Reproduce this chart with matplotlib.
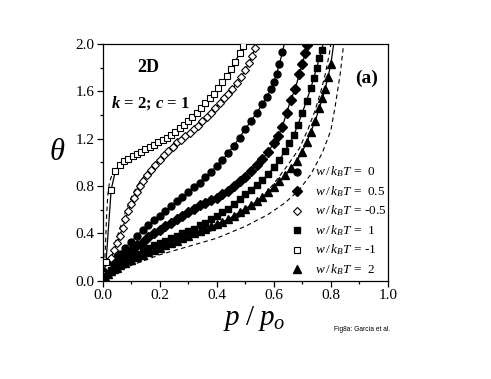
import matplotlib
matplotlib.use("Agg")
import matplotlib.pyplot as plt

plt.rcParams['font.family'] = ['Liberation Serif', 'DejaVu Serif']
plt.rcParams['mathtext.fontset'] = 'custom'
plt.rcParams['mathtext.rm'] = 'Liberation Serif'
plt.rcParams['mathtext.it'] = 'Liberation Serif:italic'
plt.rcParams['mathtext.bf'] = 'Liberation Serif:italic:bold'

# ---- data ----
# w/kBT = 0 (filled circles)
p_w0 = [0.005, 0.01, 0.02, 0.03, 0.04, 0.05, 0.06, 0.08, 0.10, 0.12, 0.14, 0.16, 0.18, 0.20,
        0.22, 0.24, 0.26, 0.28, 0.30, 0.32, 0.34, 0.36, 0.38, 0.40, 0.42, 0.44, 0.46, 0.48,
        0.50, 0.52, 0.54, 0.56, 0.575, 0.59, 0.60, 0.61, 0.62, 0.63]
t_w0 = [0.03, 0.06, 0.10, 0.14, 0.17, 0.20, 0.23, 0.28, 0.33, 0.38, 0.43, 0.47, 0.51, 0.55,
        0.59, 0.63, 0.67, 0.71, 0.75, 0.79, 0.83, 0.88, 0.92, 0.97, 1.02, 1.08, 1.14, 1.21,
        1.28, 1.35, 1.42, 1.49, 1.55, 1.62, 1.68, 1.75, 1.83, 1.93]

# w/kBT = 0.5 (filled diamonds)
p_w05 = [0.005, 0.01, 0.02, 0.03, 0.04, 0.05, 0.06, 0.08, 0.10, 0.12, 0.14, 0.16, 0.18, 0.20,
         0.22, 0.24, 0.26, 0.28, 0.30, 0.32, 0.34, 0.36, 0.38, 0.40, 0.42, 0.44, 0.46, 0.48,
         0.50, 0.52, 0.54, 0.56, 0.58, 0.60, 0.615, 0.63, 0.645, 0.66, 0.675, 0.69, 0.70,
         0.71, 0.718]
t_w05 = [0.03, 0.05, 0.08, 0.11, 0.14, 0.16, 0.18, 0.22, 0.26, 0.30, 0.33, 0.37, 0.40, 0.43,
         0.46, 0.49, 0.52, 0.55, 0.58, 0.61, 0.64, 0.66, 0.68, 0.70, 0.73, 0.76, 0.80, 0.84,
         0.88, 0.93, 0.98, 1.03, 1.09, 1.16, 1.22, 1.30, 1.42, 1.53, 1.62, 1.75, 1.83,
         1.92, 1.99]

# w/kBT = -0.5 (open diamonds)
p_wm05 = [0.01, 0.02, 0.03, 0.04, 0.05, 0.06, 0.07, 0.08, 0.09, 0.10, 0.11, 0.12, 0.13, 0.14,
          0.155, 0.17, 0.185, 0.20, 0.215, 0.23, 0.245, 0.26, 0.275, 0.29, 0.305, 0.32, 0.335,
          0.35, 0.365, 0.38, 0.395, 0.41, 0.425, 0.44, 0.455, 0.47, 0.485, 0.50, 0.512, 0.524,
          0.535]
t_wm05 = [0.06, 0.12, 0.19, 0.26, 0.32, 0.38, 0.45, 0.52, 0.59, 0.65, 0.70, 0.75, 0.80, 0.84,
          0.89, 0.94, 0.98, 1.02, 1.06, 1.10, 1.13, 1.17, 1.19, 1.22, 1.25, 1.28, 1.31,
          1.35, 1.38, 1.42, 1.46, 1.50, 1.54, 1.58, 1.62, 1.67, 1.72, 1.78, 1.84, 1.90,
          1.97]

# w/kBT = 1 (filled squares)
p_w1 = [0.005, 0.01, 0.02, 0.03, 0.04, 0.05, 0.06, 0.08, 0.10, 0.12, 0.14, 0.16, 0.18, 0.20,
        0.22, 0.24, 0.26, 0.28, 0.30, 0.32, 0.34, 0.36, 0.38, 0.40, 0.42, 0.44, 0.46, 0.48,
        0.50, 0.52, 0.54, 0.56, 0.58, 0.60, 0.62, 0.64, 0.655, 0.67, 0.685, 0.70, 0.715,
        0.73, 0.74, 0.75, 0.76, 0.768]
t_w1 = [0.02, 0.04, 0.07, 0.09, 0.11, 0.13, 0.15, 0.18, 0.21, 0.23, 0.26, 0.28, 0.30, 0.32,
        0.34, 0.36, 0.38, 0.40, 0.42, 0.44, 0.47, 0.49, 0.52, 0.55, 0.58, 0.61, 0.65, 0.69,
        0.73, 0.77, 0.81, 0.85, 0.90, 0.96, 1.02, 1.10, 1.16, 1.23, 1.32, 1.42, 1.52,
        1.63, 1.71, 1.80, 1.88, 1.95]

# w/kBT = -1 (open squares)
p_wm1 = [0.012, 0.03, 0.045, 0.06, 0.075, 0.09, 0.105, 0.12, 0.135, 0.15, 0.165, 0.18, 0.195,
         0.21, 0.225, 0.24, 0.255, 0.27, 0.285, 0.30, 0.315, 0.33, 0.345, 0.36, 0.375, 0.39,
         0.405, 0.42, 0.435, 0.45, 0.465, 0.48, 0.492]
t_wm1 = [0.16, 0.77, 0.93, 0.98, 1.01, 1.03, 1.05, 1.07, 1.09, 1.11, 1.13, 1.15, 1.17,
         1.19, 1.21, 1.23, 1.26, 1.29, 1.32, 1.35, 1.38, 1.42, 1.46, 1.50, 1.54, 1.58,
         1.63, 1.68, 1.73, 1.79, 1.85, 1.92, 1.98]

# w/kBT = 2 (filled triangles)
p_w2 = [0.005, 0.01, 0.02, 0.03, 0.04, 0.05, 0.06, 0.08, 0.10, 0.12, 0.14, 0.16, 0.18, 0.20,
        0.22, 0.24, 0.26, 0.28, 0.30, 0.32, 0.34, 0.36, 0.38, 0.40, 0.42, 0.44, 0.46, 0.48,
        0.50, 0.52, 0.54, 0.56, 0.58, 0.60, 0.62, 0.64, 0.66, 0.68, 0.70, 0.715, 0.73,
        0.745, 0.76, 0.77, 0.78, 0.79, 0.80]
t_w2 = [0.02, 0.03, 0.06, 0.08, 0.10, 0.11, 0.13, 0.15, 0.18, 0.20, 0.22, 0.24, 0.26, 0.28,
        0.30, 0.32, 0.34, 0.36, 0.38, 0.40, 0.42, 0.44, 0.46, 0.48, 0.50, 0.52, 0.55, 0.58,
        0.61, 0.64, 0.67, 0.71, 0.75, 0.79, 0.84, 0.89, 0.95, 1.01, 1.09, 1.17, 1.26,
        1.35, 1.46, 1.54, 1.62, 1.72, 1.83]

# where each solid theory curve leaves the top of the frame (theta = 2)
p_top = {'w0': 0.637, 'w05': 0.723, 'wm05': 0.54, 'w1': 0.773, 'wm1': 0.497, 'w2': 0.81}

# dashed theory curves
p_dash_a = [0.0, 0.006, 0.010, 0.014, 0.018, 0.024, 0.032, 0.045, 0.07, 0.10]
t_dash_a = [0.0, 0.10, 0.30, 0.55, 0.72, 0.83, 0.89, 0.95, 1.00, 1.04]
p_dash_b = [0.0, 0.02, 0.04, 0.06, 0.08, 0.10, 0.12, 0.15, 0.20, 0.25]
t_dash_b = [0.0, 0.13, 0.29, 0.44, 0.58, 0.70, 0.80, 0.90, 1.03, 1.14]
p_dash_c = [0.0, 0.05, 0.10, 0.20, 0.30, 0.40, 0.45, 0.50, 0.55, 0.60, 0.65, 0.69, 0.72,
            0.745, 0.765, 0.78, 0.795, 0.80]
t_dash_c = [0.0, 0.10, 0.16, 0.26, 0.35, 0.44, 0.50, 0.57, 0.68, 0.82, 0.98, 1.12, 1.28,
            1.44, 1.60, 1.74, 1.92, 2.0]
p_dash_d = [0.0, 0.01, 0.05, 0.10, 0.20, 0.30, 0.40, 0.50, 0.58, 0.64, 0.69, 0.73, 0.77,
            0.80, 0.815, 0.833, 0.845]
t_dash_d = [0.0, 0.03, 0.08, 0.13, 0.22, 0.29, 0.36, 0.46, 0.56, 0.66, 0.77, 0.90, 1.08,
            1.27, 1.47, 1.75, 2.0]

legend_values = ['=  0', '=  0.5', '= -0.5', '=  1', '= -1', '=  2']

xticks = [0.0, 0.2, 0.4, 0.6, 0.8, 1.0]
yticks = [0.0, 0.4, 0.8, 1.2, 1.6, 2.0]

# ---- figure ----
fig = plt.figure(figsize=(4.91, 3.79), dpi=100)
ax = fig.add_axes([0.209, 0.259, 0.581, 0.625])

lw = 0.9
series = [('w0', p_w0, t_w0), ('w05', p_w05, t_w05), ('wm05', p_wm05, t_wm05),
          ('w1', p_w1, t_w1), ('wm1', p_wm1, t_wm1), ('w2', p_w2, t_w2)]
for key, px, py in series:
    ax.plot([0.0] + px + [p_top[key]], [0.0] + py + [2.0], '-', color='black', lw=lw,
            zorder=2)

for px, py in [(p_dash_a, t_dash_a), (p_dash_b, t_dash_b), (p_dash_c, t_dash_c),
               (p_dash_d, t_dash_d)]:
    ax.plot(px, py, '--', color='black', lw=0.8, dashes=(4, 3), zorder=2)

styles = {
    'w0': dict(marker='o', ms=5.0, color='black'),
    'w05': dict(marker='D', ms=4.6, color='black'),
    'wm05': dict(marker='D', ms=4.0, mfc='white', mec='black', mew=0.8),
    'w1': dict(marker='s', ms=4.6, color='black'),
    'wm1': dict(marker='s', ms=4.2, mfc='white', mec='black', mew=0.8),
    'w2': dict(marker='^', ms=6.0, color='black'),
}
for key, px, py in series:
    ax.plot(px, py, ls='none', zorder=3, **styles[key])

ax.set_xlim(0, 1.0)
ax.set_ylim(0, 2.0)
ax.set_xticks(xticks)
ax.set_yticks(yticks)
ax.set_xticklabels(['%.1f' % v for v in xticks])
ax.set_yticklabels(['%.1f' % v for v in yticks])
ax.set_xticks([0.1, 0.3, 0.5, 0.7, 0.9], minor=True)
ax.set_yticks([0.2, 0.6, 1.0, 1.4, 1.8], minor=True)
ax.tick_params(which='major', direction='out', length=4, width=0.9, labelsize=11, pad=2)
ax.tick_params(which='minor', direction='out', length=2.5, width=0.9)
for s in ax.spines.values():
    s.set_linewidth(0.9)

ax.text(-0.16, 0.54, r'$\theta$', transform=ax.transAxes, fontsize=22,
        ha='center', va='center')
ax.text(0.53, -0.16, r'$p\;/\;p_o$', transform=ax.transAxes, fontsize=21,
        ha='center', va='center')

ax.text(0.16, 1.80, '2D', fontsize=13, fontweight='bold', ha='center', va='center')
ax.text(0.166, 1.50, r'$\mathbf{k}$ = 2; $\mathbf{c}$ = 1', fontsize=12, fontweight='bold',
        ha='center', va='center')
ax.text(0.925, 1.71, '(a)', fontsize=14, fontweight='bold', ha='center', va='center')

# legend drawn as marker + text rows
row_top = 0.92
row_step = 0.1646
for i, (key, _, _) in enumerate(series):
    y = row_top - i * row_step
    ax.plot([0.68], [y], ls='none', clip_on=False, zorder=4, **styles[key])
    ax.text(0.745, y, r'$w\,/\,k_{B}T$ ' + legend_values[i], fontsize=9.5,
            ha='left', va='center')

fig.text(0.737, 0.13, 'Fig8a: García et al.', fontsize=4.8, family='Liberation Sans',
         ha='center', va='center')

fig.savefig('out.png', dpi=100)
